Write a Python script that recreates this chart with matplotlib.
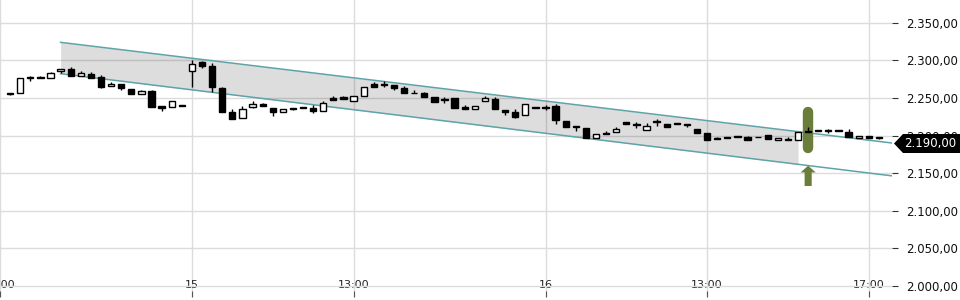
import numpy as np
from matplotlib import pyplot as plt
from matplotlib.patches import Polygon
from matplotlib.ticker import FuncFormatter

# 15-minute candles, index 0 = day 15 09:00, 35 candles per day
idx = list(range(-18, 69))

opens = [2255, 2256, 2276.5, 2277, 2276, 2285.5, 2288.5, 2279.5, 2282, 2278.5, 2265.5, 2268.5, 2262, 2255, 2259.5, 2239.5, 2238.5, 2240,
         2286, 2297.5, 2292.5, 2263, 2231, 2223, 2237.5, 2242, 2236.5, 2231, 2237, 2238.5, 2237, 2233, 2249.5, 2251, 2246.5, 2252.5,
         2268, 2267, 2267.5, 2263, 2256.5, 2257, 2251, 2248.5, 2250.5, 2238.5, 2235, 2246, 2248.5, 2234, 2232, 2227.5, 2236.5,
         2236.5, 2239, 2219.5, 2211, 2209.5, 2196.5, 2202, 2204.5, 2217.5, 2214, 2207.5, 2217.5, 2215.5, 2215, 2214, 2209, 2204,
         2195.5, 2198.5, 2198.5, 2197.5, 2197.5, 2200.5, 2194, 2194.5, 2194, 2205, 2206.5, 2206, 2205.5, 2205, 2196.5, 2199, 2196.5]
highs = [2257, 2276, 2279, 2279, 2284, 2289, 2291, 2286.5, 2284.5, 2280, 2271, 2268.5, 2262, 2260.5, 2260.5, 2239.5, 2246.5, 2240,
         2300.5, 2299.5, 2296, 2264.5, 2235, 2239.5, 2246, 2244, 2236.5, 2235, 2237, 2238.5, 2240.5, 2246.5, 2253, 2252, 2252.5, 2264.5,
         2271, 2272.5, 2267.5, 2265.5, 2260, 2258.5, 2251, 2251, 2250.5, 2240.5, 2240, 2252.5, 2251.5, 2234, 2236, 2241.5, 2236.5,
         2241, 2242, 2219.5, 2211, 2209.5, 2202, 2206.5, 2211, 2217.5, 2217.5, 2216.5, 2221.5, 2215.5, 2215, 2214, 2209, 2204,
         2198, 2198.5, 2198.5, 2199, 2197.5, 2200.5, 2196.5, 2197.5, 2204.5, 2211, 2208, 2208.5, 2207.5, 2208.5, 2199, 2199, 2197.5]
lows = [2254, 2256, 2272.5, 2276, 2276, 2283, 2279.5, 2279.5, 2277, 2263, 2265.5, 2260.5, 2255, 2255, 2238.5, 2232.5, 2238.5, 2240,
        2265, 2290.5, 2258.5, 2232, 2222, 2223, 2236.5, 2240, 2226.5, 2231, 2233.5, 2237, 2230.5, 2233, 2247.5, 2249, 2246.5, 2252.5,
        2264.5, 2265, 2261, 2256.5, 2256, 2251, 2245, 2244, 2236.5, 2235.5, 2235, 2246, 2235, 2228, 2224, 2227.5, 2236.5,
        2234, 2216, 2211, 2206.5, 2196.5, 2196.5, 2202, 2204.5, 2215.5, 2210, 2207.5, 2213, 2211, 2215, 2212, 2203, 2194,
        2195.5, 2196.5, 2198.5, 2193.5, 2197.5, 2195, 2194, 2194.5, 2194, 2205, 2206.5, 2204, 2205.5, 2198, 2196.5, 2196.5, 2195]
closes = [2255.5, 2276, 2277, 2277, 2283.5, 2288.5, 2279.5, 2283, 2277, 2264.5, 2268.5, 2263.5, 2255, 2259.5, 2238.5, 2237, 2246.5, 2240,
          2295, 2292.5, 2264.5, 2232, 2222, 2235, 2242, 2240, 2232, 2235, 2235, 2237, 2233, 2244, 2247.5, 2249, 2252.5, 2264.5,
          2264.5, 2267.5, 2263, 2256.5, 2256, 2251, 2245, 2248, 2236.5, 2235.5, 2240, 2250.5, 2235, 2231, 2225, 2241.5, 2236.5,
          2236.5, 2221, 2211, 2211, 2196.5, 2202, 2202, 2208.5, 2215.5, 2214, 2213, 2217.5, 2211, 2215, 2214, 2203, 2194,
          2195.5, 2196.5, 2198.5, 2193.5, 2197.5, 2195, 2196.5, 2194.5, 2204.5, 2205, 2206.5, 2206, 2205.5, 2198, 2199, 2196.5, 2196.5]

tick_pos = [-19, 0, 16, 35, 51, 67]
tick_lbl = ["13:00", "15", "13:00", "16", "13:00", "17:00"]
y_ticks = [2000, 2050, 2100, 2150, 2200, 2250, 2300, 2350]

# trend channel
chan_x = [-13, 69.4]
chan_upper = [2324, 2190]
chan_lower = [2282.3, 2146.3]
shade_end = 60
last_label = 2190

# signal marker
sig_x = 61
sig_bar = [2183, 2231]
sig_arrow = [2133, 2160]

teal = "#5ea3a8"
green = "#6a7d3a"

fig = plt.figure(figsize=(9.6, 3), dpi=100)
ax = fig.add_axes([0, 0.01, 892 / 960, 0.99])

ax.grid(True, color="#dcdcdc", lw=1)
ax.set_axisbelow(True)

# channel shading + lines
sx = np.linspace(chan_x[0], shade_end, 50)
ax.fill_between(sx, np.interp(sx, chan_x, chan_lower), np.interp(sx, chan_x, chan_upper),
                color="black", alpha=0.135, lw=0, zorder=1)
ax.plot(chan_x, chan_upper, color=teal, lw=1.1, zorder=2)
ax.plot(chan_x, chan_lower, color=teal, lw=1.1, zorder=2)

# green signal
ax.plot([sig_x, sig_x], sig_bar, color=green, lw=7.5, solid_capstyle="round", zorder=2.5)
ax.arrow(sig_x, sig_arrow[0], 0, sig_arrow[1] - sig_arrow[0], width=0.7, head_width=1.5,
         head_length=9, length_includes_head=True, color=green, lw=0, zorder=2.5)

# candles
o = np.array(opens); c = np.array(closes)
up = c > o
body_col = np.where(up, "white", "black")
bottom = np.minimum(o, c)
height = np.maximum(np.abs(c - o), 1.3)
ax.vlines(idx, lows, highs, color="black", lw=1, zorder=3)
ax.bar(idx, height, bottom=bottom, width=0.62, color=body_col, edgecolor="black", lw=1, zorder=4)

ax.set_xlim(-18.39, 69.3)
ax.set_ylim(1985.4, 2380.3)
for s in ax.spines.values():
    s.set_visible(False)

ax.set_xticks(tick_pos)
ax.set_xticklabels(tick_lbl)
ax.tick_params(axis="x", direction="in", length=4, color="#555555", pad=-12, labelsize=8, labelcolor="#222222")

ax.set_yticks(y_ticks)
ax.yaxis.tick_right()
ax.yaxis.set_major_formatter(FuncFormatter(lambda v, p: f"{v:,.2f}".replace(",", "X").replace(".", ",").replace("X", ".")))
ax.tick_params(axis="y", direction="out", length=4, color="#333333", pad=6, labelsize=8.5, labelcolor="#111111")

# last value tag
W, H = 960, 300
pts = [(894, 143.5), (903, 134), (960, 134), (960, 153), (903, 153)]
tag = Polygon([(px / W, 1 - py / H) for px, py in pts], closed=True, transform=fig.transFigure,
              facecolor="black", edgecolor="none", zorder=10)
fig.patches.append(tag)
lbl = f"{last_label:,.2f}".replace(",", "X").replace(".", ",").replace("X", ".")
fig.text(930 / W, 1 - 143.5 / H, lbl, color="white", fontsize=8.5, ha="center", va="center", zorder=11)

plt.savefig("out.png", dpi=100)
plt.close()
